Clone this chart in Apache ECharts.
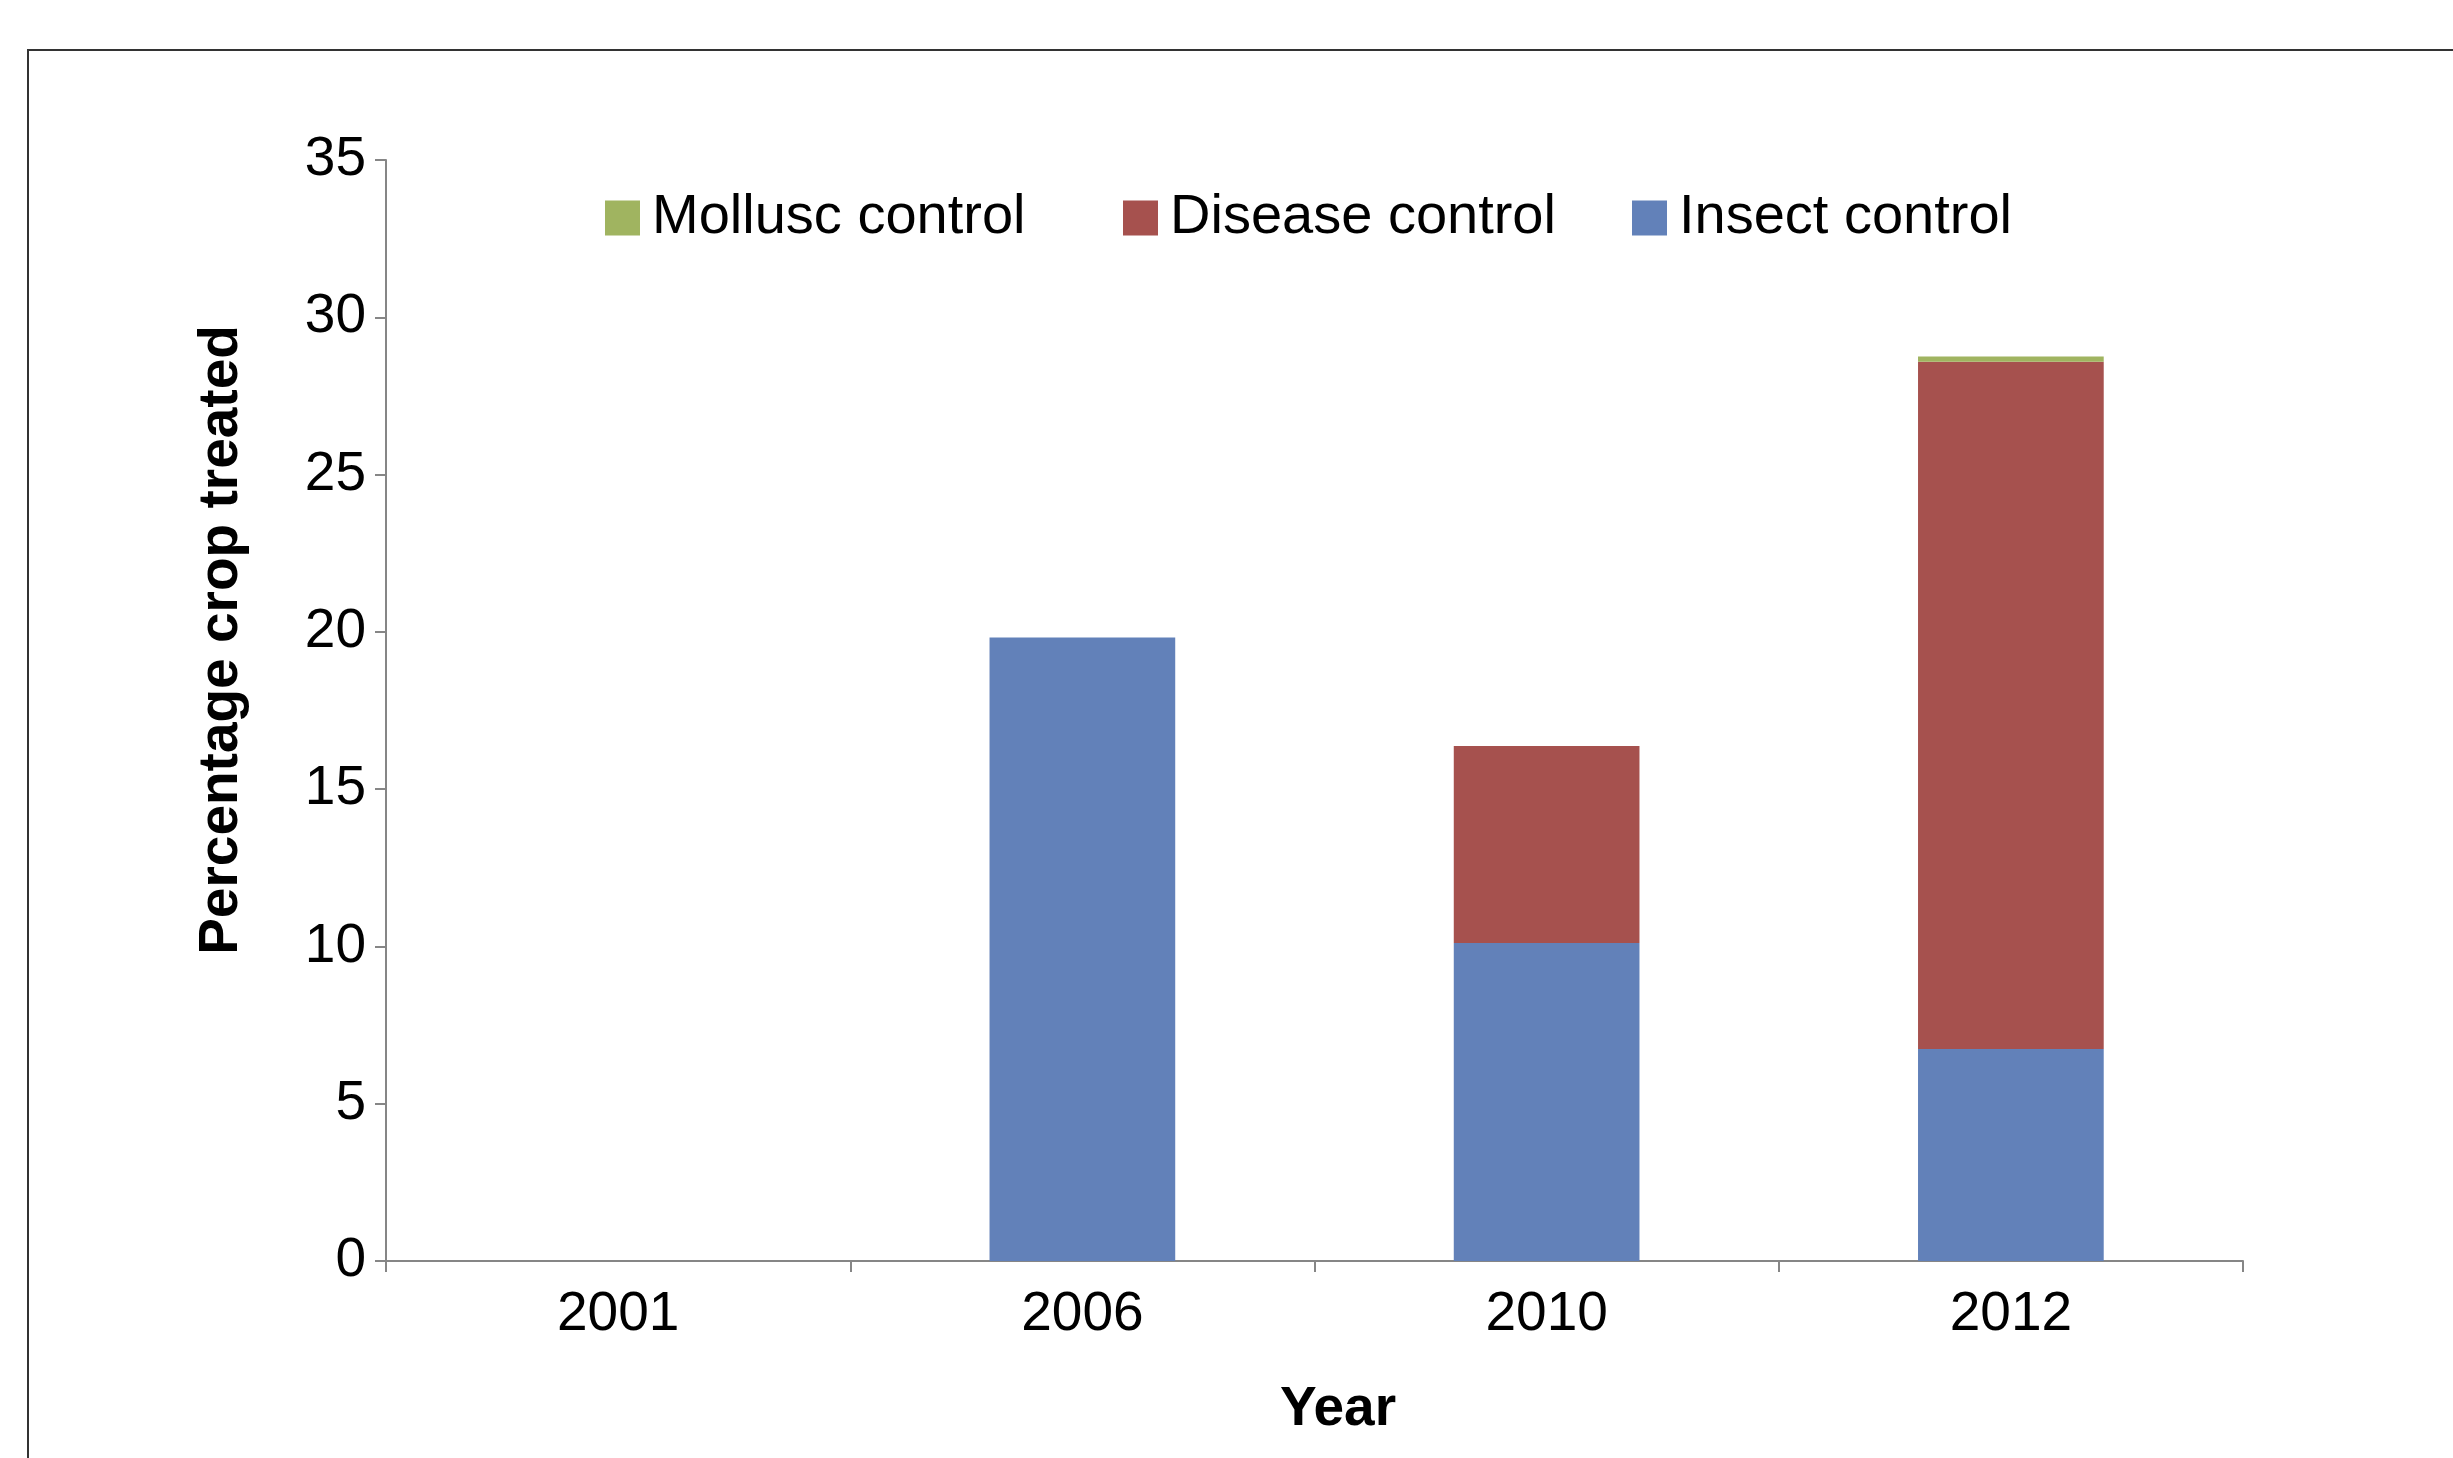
<!DOCTYPE html>
<html>
<head>
<meta charset="utf-8">
<script src="https://cdn.jsdelivr.net/npm/echarts@6/dist/echarts.min.js"></script>
<style>
html,body{margin:0;padding:0;background:#fff;}
#chart{width:2453px;height:1458px;}
</style>
</head>
<body>
<div id="chart"></div>
<script>
const categories = ['2001', '2006', '2010', '2012'];
const insectControl = [0, 19.82, 10.11, 6.74];
const diseaseControl = [0, 0, 6.26, 21.85];
const molluscControl = [0, 0, 0, 0.16];
const yTicks = { min: 0, max: 35, interval: 5 };
const seriesNames = ['Mollusc control', 'Disease control', 'Insect control'];
const xTitle = 'Year';
const yTitle = 'Percentage crop treated';

const FONT = '"Liberation Sans", Arial, sans-serif';
const colors = { insect: '#6281B9', disease: '#A6514E', mollusc: '#A0B460' };

const chart = echarts.init(document.getElementById('chart'));

function legendAt(name, left) {
  return {
    data: [name], left: left, top: 185, itemWidth: 35, itemHeight: 35,
    icon: 'rect',
    textStyle: { fontFamily: FONT, fontSize: 56, color: '#000', padding: [0, 0, 0, 7] }
  };
}

chart.setOption({
  animation: false,
  backgroundColor: '#fff',
  grid: { left: 386, right: 210, top: 160, bottom: 197 },
  legend: [
    legendAt(seriesNames[0], 600),
    legendAt(seriesNames[1], 1118),
    legendAt(seriesNames[2], 1627)
  ],
  xAxis: {
    type: 'category',
    data: categories,
    axisLine: { lineStyle: { color: '#868686', width: 2 } },
    axisTick: { show: true, length: 11, alignWithLabel: false, lineStyle: { color: '#868686', width: 2 } },
    axisLabel: { fontFamily: FONT, fontSize: 55, color: '#000', margin: 26 },
    splitLine: { show: false }
  },
  yAxis: {
    type: 'value',
    min: yTicks.min, max: yTicks.max, interval: yTicks.interval,
    axisLine: { show: true, lineStyle: { color: '#868686', width: 2 } },
    axisTick: { show: true, length: 11, lineStyle: { color: '#868686', width: 2 } },
    axisLabel: { fontFamily: FONT, fontSize: 55, color: '#000', margin: 20 },
    splitLine: { show: false }
  },
  series: [
    { name: seriesNames[2], type: 'bar', stack: 'total', data: insectControl, barWidth: '40%',
      itemStyle: { color: colors.insect } },
    { name: seriesNames[1], type: 'bar', stack: 'total', data: diseaseControl, barWidth: '40%',
      itemStyle: { color: colors.disease } },
    { name: seriesNames[0], type: 'bar', stack: 'total', data: molluscControl, barWidth: '40%',
      itemStyle: { color: colors.mollusc } }
  ],
  graphic: [
    { type: 'rect', shape: { x: 28, y: 50, width: 3000, height: 3000 },
      style: { fill: null, stroke: '#333', lineWidth: 2 }, silent: true, z: -1 },
    { type: 'text', x: 1338, y: 1410,
      style: { text: xTitle, font: 'bold 55px ' + FONT, fill: '#000', align: 'center', verticalAlign: 'middle' } },
    { type: 'text', x: 222, y: 640, rotation: Math.PI / 2,
      style: { text: yTitle, font: 'bold 55px ' + FONT, fill: '#000', align: 'center', verticalAlign: 'middle' } }
  ]
});
</script>
</body>
</html>
